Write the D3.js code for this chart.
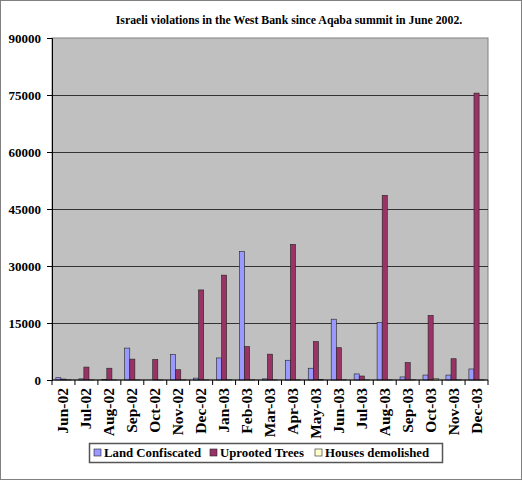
<!DOCTYPE html>
<html>
<head>
<meta charset="utf-8">
<script src="https://cdn.jsdelivr.net/npm/d3@7"></script>
<style>
  body { margin: 0; background: #fff; }
  text { font-family: "Liberation Serif", "DejaVu Serif", serif; font-weight: bold; fill: #000; }
</style>
</head>
<body>
<svg id="chart" width="522" height="480"></svg>
<script>
// Months on the x axis
const months = ['Jun-02', 'Jul-02', 'Aug-02', 'Sep-02', 'Oct-02', 'Nov-02', 'Dec-02',
  'Jan-03', 'Feb-03', 'Mar-03', 'Apr-03', 'May-03', 'Jun-03', 'Jul-03', 'Aug-03',
  'Sep-03', 'Oct-03', 'Nov-03', 'Dec-03'];

// Series values
const landConfiscated = [600, 300, 100, 8400, 0, 6700, 500, 5800, 33800, 300,
  5200, 3100, 16000, 1600, 15100, 800, 1300, 1300, 2900];
const uprootedTrees = [250, 3400, 3100, 5500, 5400, 2700, 23700, 27600, 8800, 6800,
  35700, 10100, 8500, 1050, 48600, 4600, 17000, 5600, 75500];
const housesDemolished = [60, 30, 20, 40, 20, 30, 40, 60, 50, 40,
  60, 100, 60, 40, 50, 60, 400, 40, 60];

const seriesNames = ['Land Confiscated', 'Uprooted Trees', 'Houses demolished'];
const seriesColors = ['#9999ff', '#993366', '#ffffcc'];
const yTicks = [0, 15000, 30000, 45000, 60000, 75000, 90000];

const title = 'Israeli violations in the West Bank since Aqaba summit in June 2002.';

const svg = d3.select('#chart');
const plot = { left: 52, top: 38, right: 488, bottom: 380 };

// frame around the whole picture
svg.append('rect')
  .attr('x', 0.5).attr('y', 0.5)
  .attr('width', 521).attr('height', 479)
  .attr('fill', '#fff')
  .attr('stroke', '#808080');

const x0 = d3.scaleBand()
  .domain(months)
  .range([plot.left, plot.right])
  .paddingInner(1 / 3)
  .paddingOuter(1 / 6);

const x1 = d3.scaleBand()
  .domain(d3.range(seriesNames.length))
  .range([0, x0.bandwidth()]);

const y = d3.scaleLinear()
  .domain([0, 90000])
  .range([plot.bottom, plot.top]);

// plot background
svg.append('rect')
  .attr('x', plot.left).attr('y', plot.top)
  .attr('width', plot.right - plot.left)
  .attr('height', plot.bottom - plot.top)
  .attr('fill', '#c0c0c0')
  .attr('stroke', '#808080');

// gridlines
svg.append('g')
  .selectAll('line')
  .data(yTicks.filter(d => d > 0 && d < 90000))
  .join('line')
  .attr('x1', plot.left).attr('x2', plot.right)
  .attr('y1', d => Math.round(y(d)) + 0.5)
  .attr('y2', d => Math.round(y(d)) + 0.5)
  .attr('stroke', '#333');

// bars
const table = months.map((m, i) => ({
  month: m,
  values: [landConfiscated[i], uprootedTrees[i], housesDemolished[i]]
}));

svg.append('g')
  .selectAll('g')
  .data(table)
  .join('g')
  .attr('transform', d => `translate(${x0(d.month)},0)`)
  .selectAll('rect')
  .data(d => d.values.map((v, k) => ({ v, k })))
  .join('rect')
  .filter(d => d.v > 0)
  .attr('x', d => x1(d.k))
  .attr('y', d => y(d.v))
  .attr('width', x1.bandwidth())
  .attr('height', d => y(0) - y(d.v))
  .attr('fill', d => seriesColors[d.k])
  .attr('stroke', '#222')
  .attr('stroke-width', 0.6);

// y axis
const yAxis = svg.append('g')
  .attr('transform', `translate(${plot.left},0)`)
  .call(d3.axisLeft(y).tickValues(yTicks).tickSize(5).tickPadding(6).tickFormat(d3.format('d')));
yAxis.select('.domain').attr('stroke', '#000');
yAxis.selectAll('.tick line').attr('stroke', '#000');
yAxis.selectAll('text')
  .style('font-size', '13px')
  .style('font-family', '"Liberation Serif", serif')
  .style('font-weight', 'bold');

// x axis: tick marks sit between the categories
const xAxis = svg.append('g')
  .attr('transform', `translate(0,${plot.bottom})`);
xAxis.append('line')
  .attr('x1', plot.left).attr('x2', plot.right)
  .attr('stroke', '#000');
xAxis.selectAll('line.sep')
  .data(d3.range(months.length + 1))
  .join('line')
  .attr('class', 'sep')
  .attr('x1', i => plot.left + i * x0.step())
  .attr('x2', i => plot.left + i * x0.step())
  .attr('y1', 0).attr('y2', 5)
  .attr('stroke', '#000');
xAxis.selectAll('text')
  .data(months)
  .join('text')
  .attr('transform', d => `translate(${x0(d) + x0.bandwidth() / 2 + 5},8) rotate(-90)`)
  .attr('text-anchor', 'end')
  .style('font-size', '15.5px')
  .text(d => d);

// title
svg.append('text')
  .attr('x', 289).attr('y', 24)
  .attr('text-anchor', 'middle')
  .style('font-size', '11.8px')
  .text(title);

// legend
const legend = svg.append('g');
legend.append('rect')
  .attr('x', 89.5).attr('y', 443.5)
  .attr('width', 353).attr('height', 19)
  .attr('fill', '#fff')
  .attr('stroke', '#555')
  .attr('stroke-width', 1.5);

const legendX = [94, 210, 315];
const item = legend.selectAll('g.item')
  .data(seriesNames)
  .join('g')
  .attr('class', 'item')
  .attr('transform', (d, i) => `translate(${legendX[i]},449)`);
item.append('rect')
  .attr('width', 7).attr('height', 7)
  .attr('fill', (d, i) => seriesColors[i])
  .attr('stroke', '#222')
  .attr('stroke-width', 0.6);
item.append('text')
  .attr('x', 10).attr('y', 8)
  .style('font-size', '12.8px')
  .text(d => d);
</script>
</body>
</html>
